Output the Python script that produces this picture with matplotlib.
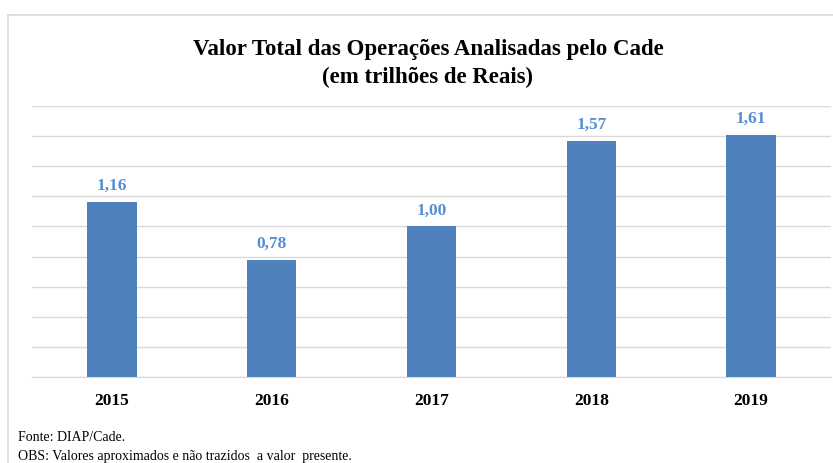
import numpy as np
import matplotlib.pyplot as plt
from matplotlib.patches import Rectangle

anos = ["2015", "2016", "2017", "2018", "2019"]
valores = [1.16, 0.78, 1.00, 1.57, 1.61]
rotulos = ["1,16", "0,78", "1,00", "1,57", "1,61"]

serif = "Liberation Serif"

fig = plt.figure(figsize=(8.33, 4.64), dpi=100)

# moldura do grafico
fig.patches.append(Rectangle((8/833, -0.05), 1.0, 1 - 16/464 + 0.05, transform=fig.transFigure,
                             fill=False, edgecolor="#D9D9D9", linewidth=1.2))

ax = fig.add_axes([32/833, 1 - 378/464, 799/833, 271/464])
x = np.arange(len(anos))
ax.bar(x, valores, width=0.31, color="#4F81BD", zorder=3)

for xi, v, r in zip(x, valores, rotulos):
    ax.text(xi, v + 0.06, r, ha="center", va="bottom", fontsize=12.5, fontweight="bold",
            color="#558ED5", family=serif)

ax.set_xlim(-0.5, len(anos) - 0.5)
ax.set_ylim(0, 1.8)
ax.set_yticks(np.arange(0, 1.81, 0.2))
ax.yaxis.grid(True, color="#D9D9D9", linewidth=1)
ax.tick_params(axis="y", left=False, labelleft=False)
ax.tick_params(axis="x", bottom=False, pad=7)
ax.set_xticks(x)
ax.set_xticklabels(anos, fontsize=12.5, fontweight="bold", family=serif)
for s in ["top", "right", "left"]:
    ax.spines[s].set_visible(False)
ax.spines["bottom"].set_color("#D9D9D9")

fig.text(428/833, 1 - 50/464, "Valor Total das Operações Analisadas pelo Cade",
         ha="center", va="center", fontsize=16.5, fontweight="bold", family=serif)
fig.text(428/833, 1 - 77/464, "(em trilhões de Reais)",
         ha="center", va="center", fontsize=16.5, fontweight="bold", family=serif)

fig.text(18/833, 1 - 438/464, "Fonte: DIAP/Cade.", ha="left", va="center",
         fontsize=10, family=serif)
fig.text(18/833, 1 - 457/464, "OBS: Valores aproximados e não trazidos  a valor  presente.",
         ha="left", va="center", fontsize=10, family=serif)

fig.savefig("out.png", dpi=100)
